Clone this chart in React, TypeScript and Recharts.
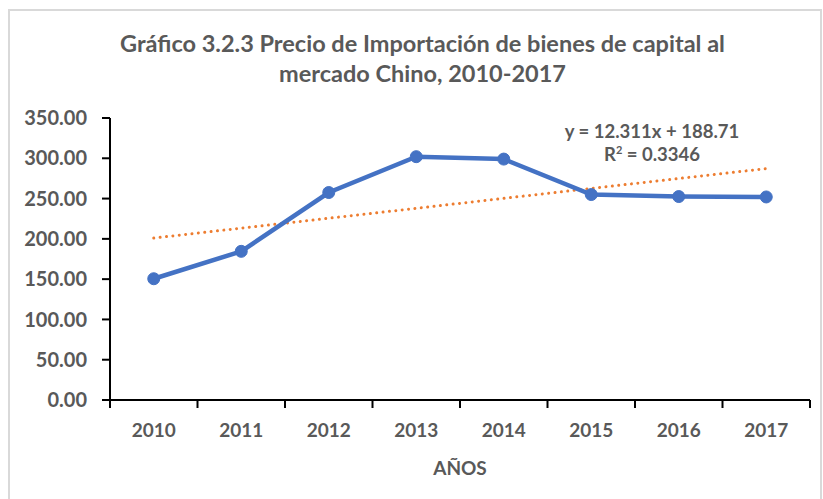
import React from "react";
import { LineChart, Line, XAxis, YAxis } from "recharts";

const years = ["2010", "2011", "2012", "2013", "2014", "2015", "2016", "2017"];
const precio = [150.5, 184.5, 257.5, 302, 299, 255, 252.5, 252];
// linear trend y = 12.311x + 188.71, read at each year
const tendencia = [201.0, 213.3, 225.6, 237.9, 250.3, 262.6, 274.9, 287.2];
const yTicks = [0, 50, 100, 150, 200, 250, 300, 350];
const boundaryTicks = [0.5, 1.5, 2.5, 3.5, 4.5, 5.5, 6.5, 7.5, 8.5];
const centerTicks = [1, 2, 3, 4, 5, 6, 7, 8];

const data = years.map((year, i) => ({
  idx: i + 1,
  year,
  precio: precio[i],
  tendencia: tendencia[i],
}));

const font = "Lato, 'Noto Sans', sans-serif";
const grey = "#595959";

export default function App() {
  return (
    <div
      style={{
        position: "absolute",
        left: 0,
        top: 0,
        width: 823,
        height: 499,
        overflow: "hidden",
        background: "#fff",
        fontFamily: font,
      }}
    >
      <div
        style={{
          position: "absolute",
          left: 8,
          top: 9,
          width: 810,
          height: 520,
          border: "2px solid #d9d9d9",
        }}
      />
      <div
        style={{
          position: "absolute",
          left: 0,
          top: 28,
          width: 845,
          textAlign: "center",
          color: grey,
          fontWeight: 700,
          fontSize: 23.5,
          lineHeight: "30px",
        }}
      >
        Gráfico 3.2.3 Precio de Importación de bienes de capital al
        <br />
        mercado Chino, 2010-2017
      </div>

      <LineChart
        width={823}
        height={499}
        data={data}
        margin={{ top: 118, right: 13, bottom: 68, left: 0 }}
        style={{ position: "absolute", left: 0, top: 0 }}
      >
        <XAxis
          xAxisId="a"
          type="number"
          dataKey="idx"
          domain={[0.5, 8.5]}
          ticks={boundaryTicks}
          interval={0}
          tickFormatter={() => ""}
          height={1}
          tickSize={8}
          axisLine={{ stroke: "#000", strokeWidth: 2 }}
          tickLine={{ stroke: "#000", strokeWidth: 2 }}
        />
        <XAxis
          xAxisId="b"
          type="number"
          dataKey="idx"
          domain={[0.5, 8.5]}
          ticks={centerTicks}
          interval={0}
          tickFormatter={(v: number) => years[v - 1]}
          height={30}
          axisLine={false}
          tickLine={false}
          tickMargin={17}
          tick={{ fill: grey, fontSize: 19, fontWeight: 700, fontFamily: font }}
          label={{
            value: "AÑOS",
            position: "insideBottom",
            offset: -44,
            fill: grey,
            fontSize: 19,
            fontWeight: 700,
            fontFamily: font,
          }}
        />
        <YAxis
          type="number"
          domain={[0, 350]}
          ticks={yTicks}
          width={110}
          tickSize={8}
          tickMargin={15}
          tickFormatter={(v: number) => v.toFixed(2)}
          axisLine={{ stroke: "#000", strokeWidth: 2 }}
          tickLine={{ stroke: "#000", strokeWidth: 2 }}
          tick={{ fill: grey, fontSize: 20, fontWeight: 700, fontFamily: font }}
        />
        <Line
          xAxisId="a"
          dataKey="tendencia"
          stroke="#ed7d31"
          strokeWidth={3}
          strokeDasharray="0.01 6.4"
          strokeLinecap="round"
          dot={false}
          isAnimationActive={false}
        />
        <Line
          xAxisId="b"
          dataKey="precio"
          stroke="#4472c4"
          strokeWidth={4.5}
          dot={{ r: 6, fill: "#4472c4", stroke: "#4472c4", strokeWidth: 1 }}
          isAnimationActive={false}
        />
      </LineChart>

      <div
        style={{
          position: "absolute",
          left: 552,
          top: 120,
          width: 200,
          textAlign: "center",
          color: grey,
          fontWeight: 700,
          fontSize: 18.5,
          lineHeight: "23px",
        }}
      >
        y = 12.311x + 188.71
        <br />
        R<sup style={{ fontSize: 11, verticalAlign: "7px", lineHeight: 0 }}>2</sup> = 0.3346
      </div>
    </div>
  );
}
